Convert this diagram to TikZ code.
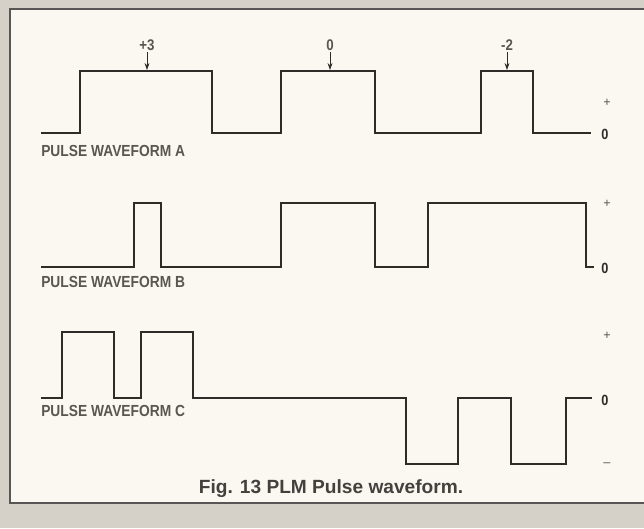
\documentclass[tikz,border=0pt]{standalone}
\usepackage{fontspec}
\setmainfont{Liberation Sans}
\newfontfamily\capfont[FakeStretch=0.86]{Liberation Sans}
\newfontfamily\figfont[FakeStretch=1.0]{Liberation Sans}
\usepackage{tikz}
\usetikzlibrary{arrows.meta}
\definecolor{paper}{HTML}{FBF8F1}
\definecolor{mount}{HTML}{D5D0C8}
\definecolor{ink}{HTML}{2E2B29}
\definecolor{printgray}{HTML}{5A5652}
\tikzset{
  wave/.style={draw=ink,line width=1.7pt},
  lbl/.style={anchor=base west,inner sep=0pt,font=\capfont\bfseries\fontsize{11.4}{13}\selectfont,
              text=printgray},
  val/.style={inner sep=1pt,font=\capfont\bfseries\fontsize{11}{13}\selectfont,text=printgray},
  lvl/.style={inner sep=1pt,font=\capfont\bfseries\fontsize{10.5}{12}\selectfont,text=ink},
  sgn/.style={inner sep=1pt,font=\fontsize{9}{10}\selectfont,text=printgray},
  fl/.style={-{Stealth[length=5pt,width=3.5pt]},draw=ink,line width=0.6pt},
}

\begin{document}
\begin{tikzpicture}[x=0.025cm, y=-0.025cm]
  \useasboundingbox (0,0) rectangle (644,528);
  % mount and frame
  \fill[mount] (0,0) rectangle (644,528);
  \fill[paper] (10,9) rectangle (644,503);
  \draw[ink!80,line width=2pt] (644,9) -- (10,9) -- (10,503) -- (644,503);

  % waveform A
  \draw[wave] (41,133) -| (80,71) -| (212,133) -| (281,71) -| (375,133)
              -| (481,71) -| (533,133) -- (591,133);
  \node[lbl] (la) at (41,156) {PULSE WAVEFORM A};
  \node[val] (a1) at (147,45) {+3};
  \node[val] (a2) at (330,45) {0};
  \node[val] (a3) at (507,45) {-2};
  \coordinate (a1t) at (147,70);
  \coordinate (a2t) at (330,70);
  \coordinate (a3t) at (507,70);
  \draw[fl] (a1) -- (a1t);
  \draw[fl] (a2) -- (a2t);
  \draw[fl] (a3) -- (a3t);
  \node[sgn] (pa) at (607,103) {+};
  \node[lvl] (za) at (605,134) {0};

  % waveform B
  \draw[wave] (41,267) -| (134,203) -| (161,267) -| (281,203) -| (375,267)
              -| (428,203) -| (586,267) -- (594,267);
  \node[lbl] (lb) at (41,287) {PULSE WAVEFORM B};
  \node[sgn] (pb) at (607,204) {+};
  \node[lvl] (zb) at (605,268) {0};

  % waveform C
  \draw[wave] (41,398) -| (62,332) -| (114,398) -| (141,332) -| (193,398)
              -| (406,464) -| (458,398) -| (511,464) -| (566,398) -- (592,398);
  \node[lbl] (lc) at (41,416) {PULSE WAVEFORM C};
  \node[sgn] (pc) at (607,336) {+};
  \node[lvl] (zc) at (605,400) {0};
  \node[sgn] (mc) at (607,465) {--};

  % caption
  \node[inner sep=0pt,anchor=base,text=ink!90,font=\figfont\bfseries\fontsize{13.6}{16}\selectfont]
       (cap) at (331,493) {Fig. 13 PLM Pulse waveform.};
\end{tikzpicture}
\end{document}
